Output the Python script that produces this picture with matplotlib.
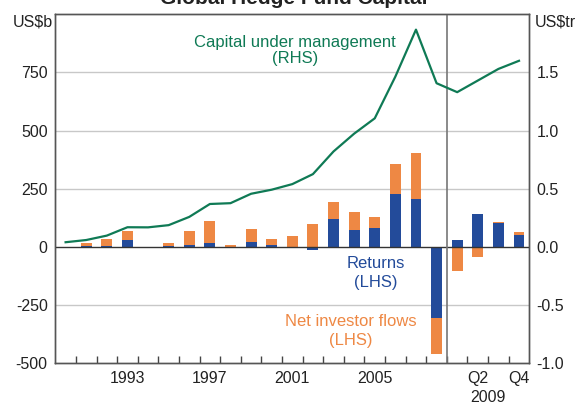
import matplotlib
matplotlib.use('Agg')
import matplotlib.pyplot as plt
import matplotlib.transforms as transforms
import numpy as np

plt.rcParams['font.family'] = ['Liberation Sans', 'DejaVu Sans']

# 1990-2008 annual, then 2009 Q1-Q4
periods = ['1990', '1991', '1992', '1993', '1994', '1995', '1996', '1997', '1998', '1999',
           '2000', '2001', '2002', '2003', '2004', '2005', '2006', '2007', '2008',
           '2009Q1', '2009Q2', '2009Q3', '2009Q4']
returns = [0, 5, 4, 29, -3, 2, 7, 16, 1, 20, 7, 1, -15, 119, 71, 81, 228, 207, -307,
           27, 143, 102, 49]
netFlows = [0, 12, 31, 38, 0, 15, 60, 95, 5, 56, 28, 45, 98, 74, 79, 47, 129, 197, -155,
            -105, -44, 3, 14]
capital = [0.039, 0.058, 0.096, 0.168, 0.167, 0.186, 0.257, 0.368, 0.375, 0.456,
           0.491, 0.539, 0.625, 0.820, 0.973, 1.105, 1.464, 1.868, 1.407,
           1.33, 1.43, 1.53, 1.60]

tickLabels = ['1993', '1997', '2001', '2005', 'Q2', 'Q4']
tickSlots = [3, 7, 11, 15, 20, 22]

blue = '#234b9a'
orange = '#ee8844'
green = '#0f7a55'
grey = '#c8c8c8'
textColor = '#222222'

fig = plt.figure(figsize=(5.79, 4.05), dpi=100)
ax = fig.add_axes([0.0955, 0.1037, 0.8187, 0.861])
ax2 = ax.twinx()

x = np.arange(len(periods)) + 0.5
returns = np.array(returns, dtype=float)
netFlows = np.array(netFlows, dtype=float)
# flows stack on returns when they share a sign, otherwise start from zero
flowBottom = np.where(np.sign(returns) == np.sign(netFlows), returns, 0)

for y in [-250, 250, 500, 750]:
    ax.axhline(y, color=grey, lw=1, zorder=0)
ax.bar(x, returns, width=0.53, color=blue, zorder=2)
ax.bar(x, netFlows, width=0.53, bottom=flowBottom, color=orange, zorder=2)
ax.axhline(0, color='#333333', lw=1, zorder=3)
ax.axvline(19, color='#777777', lw=1.2, zorder=3)

ax2.plot(x, capital, color=green, lw=1.6)

ax.set_xlim(0, 23)
ax.set_ylim(-500, 1000)
ax2.set_ylim(-1, 2)

ax.set_yticks([-500, -250, 0, 250, 500, 750])
ax.set_yticklabels(['-500', '-250', '0', '250', '500', '750'])
ax2.set_yticks([-1.0, -0.5, 0, 0.5, 1.0, 1.5])
ax2.set_yticklabels(['-1.0', '-0.5', '0.0', '0.5', '1.0', '1.5'])
ax.tick_params(axis='y', length=0, pad=5.5, labelsize=11.5, labelcolor=textColor)
ax2.tick_params(axis='y', length=0, pad=5, labelsize=11.5, labelcolor=textColor)

ax.set_xticks(np.array(tickSlots) + 0.5)
ax.set_xticklabels(tickLabels)
ax.set_xticks(np.arange(1, 23), minor=True)
ax.tick_params(axis='x', which='major', length=0, pad=6, labelsize=11.5, labelcolor=textColor)
ax.tick_params(axis='x', which='minor', direction='in', length=5, width=1, color='#444444')

for a in [ax, ax2]:
    for s in a.spines.values():
        s.set_color('#555555')
        s.set_linewidth(1)

trans = transforms.blended_transform_factory(ax.transData, fig.transFigure)
ax.text(21, 1 - 398 / 405, '2009', transform=trans, ha='center', va='center',
        fontsize=11.5, color=textColor)


def pix(px, py):
    return px / 579, 1 - py / 405


fig.text(*pix(53, 22), 'US$b', ha='right', va='center', fontsize=11.5, color=textColor)
fig.text(*pix(535, 22), 'US$tr', ha='left', va='center', fontsize=11.5, color=textColor)
# title sits partly above the top edge, as in the source image
fig.text(*pix(294, 4), 'Global Hedge Fund Capital', ha='center', va='baseline',
         fontsize=15, fontweight='bold', color=textColor)

fig.text(*pix(295, 42), 'Capital under management', ha='center', va='center', fontsize=12, color=green)
fig.text(*pix(295, 59), '(RHS)', ha='center', va='center', fontsize=12, color=green)
fig.text(*pix(376, 263), 'Returns', ha='center', va='center', fontsize=12, color=blue)
fig.text(*pix(376, 282), '(LHS)', ha='center', va='center', fontsize=12, color=blue)
fig.text(*pix(351, 322), 'Net investor flows', ha='center', va='center', fontsize=12, color=orange)
fig.text(*pix(351, 341), '(LHS)', ha='center', va='center', fontsize=12, color=orange)

fig.savefig('out.png', dpi=100)
